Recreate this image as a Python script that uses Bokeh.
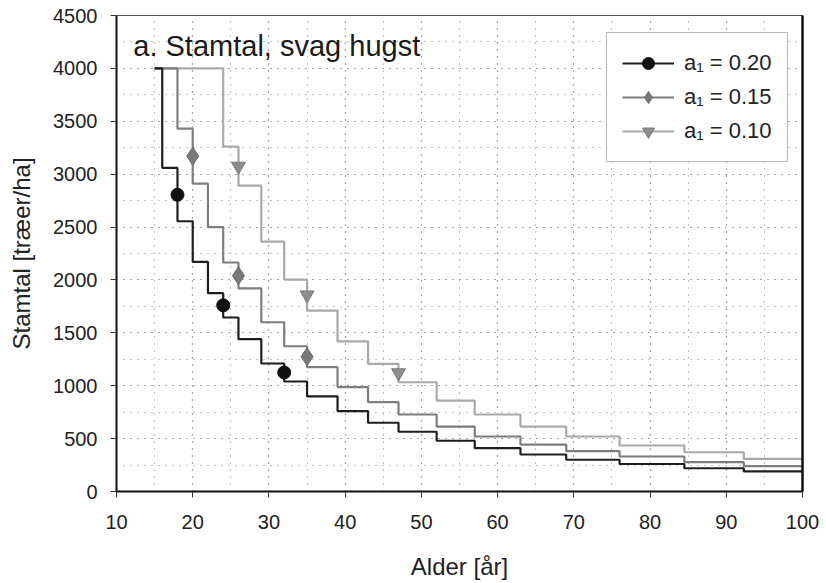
from bokeh.plotting import figure
from bokeh.models import (Label, Legend, LegendItem, LinearAxis, Range1d,
                          FixedTicker)
from bokeh.embed import file_html
from bokeh.resources import INLINE

# ---- data ----
# a1 = 0.20 (black)
age_020 = [15, 16, 18, 20, 22, 24, 26, 29, 32, 35, 39, 43, 47, 52, 57, 63, 69, 76, 84.5, 92.3, 100]
n_020 = [4000, 3060, 2555, 2170, 1875, 1645, 1440, 1210, 1040, 900, 760, 650, 565, 480, 410, 350, 300, 260, 220, 190, 190]
mk_age_020 = [18, 24, 32]
mk_n_020 = [2805, 1760, 1125]

# a1 = 0.15 (mid grey)
age_015 = [15, 18, 20, 22, 24, 26, 29, 32, 35, 39, 43, 47, 52, 57, 63, 69, 76, 84.5, 92.3, 100]
n_015 = [4000, 3430, 2910, 2500, 2165, 1920, 1600, 1373, 1175, 987, 844, 728, 614, 520, 444, 381, 331, 277, 239, 239]
mk_age_015 = [20, 26, 35]
mk_n_015 = [3170, 2040, 1274]

# a1 = 0.10 (light grey)
age_010 = [15, 24, 26, 29, 32, 35, 39, 43, 47, 52, 57, 63, 69, 76, 84.5, 92.3, 100]
n_010 = [4000, 3260, 2891, 2362, 2003, 1710, 1420, 1207, 1033, 860, 728, 614, 520, 435, 371, 309, 309]
mk_age_010 = [26, 35, 47]
mk_n_010 = [3075, 1858, 1122]

labels = ["a\u2081 = 0.20", "a\u2081 = 0.15", "a\u2081 = 0.10"]
x_ticks = [10, 20, 30, 40, 50, 60, 70, 80, 90, 100]
y_ticks = [0, 500, 1000, 1500, 2000, 2500, 3000, 3500, 4000, 4500]

FONT = "Liberation Sans"

p = figure(width=826, height=583, output_backend="svg", toolbar_location=None,
           x_range=Range1d(10, 100), y_range=Range1d(0, 4500),
           min_border_left=116, min_border_right=24, min_border_top=15,
           min_border_bottom=92)
p.background_fill_color = "white"
p.border_fill_color = "white"
p.outline_line_color = "#555555"
p.outline_line_width = 1

# axes
p.xaxis.ticker = FixedTicker(ticks=x_ticks, minor_ticks=list(range(10, 101, 5)))
p.yaxis.ticker = FixedTicker(ticks=y_ticks, minor_ticks=list(range(0, 4501, 250)))
for ax in (p.xaxis[0], p.yaxis[0]):
    ax.axis_line_color = "#111111"
    ax.axis_line_width = 2
    ax.major_tick_line_color = "#333333"
    ax.major_tick_line_width = 1
    ax.major_tick_in = 0
    ax.major_tick_out = 6
    ax.minor_tick_line_color = None
    ax.major_label_text_font = FONT
    ax.major_label_text_font_size = "20px"
    ax.major_label_text_color = "#222222"
    ax.axis_label_text_font = FONT
    ax.axis_label_text_font_size = "24px"
    ax.axis_label_text_font_style = "normal"
    ax.axis_label_text_color = "#222222"
p.xaxis.axis_label = "Alder [år]"
p.yaxis.axis_label = "Stamtal [træer/ha]"
p.xaxis.major_label_standoff = 17
p.yaxis.major_label_standoff = 13
p.xaxis.axis_label_standoff = 21
p.yaxis.axis_label_standoff = 15

# right border
rax = LinearAxis(ticker=FixedTicker(ticks=[]), axis_line_width=2.5,
                 axis_line_color="#111111", major_label_text_font_size="0px",
                 major_tick_line_color=None, minor_tick_line_color=None)
p.add_layout(rax, "right")

# grid (dotted, every 5 years / 250 trees)
for g in (p.xgrid[0], p.ygrid[0]):
    g.grid_line_color = "#8a8a8a"
    g.grid_line_dash = "1 6"
    g.grid_line_width = 1.2
    g.minor_grid_line_color = "#8a8a8a"
    g.minor_grid_line_dash = "1 6"
    g.minor_grid_line_width = 1.2

# series
l1 = p.step(age_010, n_010, mode="after", line_color="#a9a9a9", line_width=2.2)
l2 = p.step(age_015, n_015, mode="after", line_color="#7d7d7d", line_width=2.2)
l3 = p.step(age_020, n_020, mode="after", line_color="#1e1e1e", line_width=2.2)

m3 = p.scatter(mk_age_020, mk_n_020, marker="circle", size=13,
               fill_color="#111111", line_color="#111111")
m2 = p.scatter(mk_age_015, mk_n_015, marker="diamond", size=18,
               fill_color="#7a7a7a", line_color="#6a6a6a")
m1 = p.scatter(mk_age_010, mk_n_010, marker="inverted_triangle", size=14,
               fill_color="#8e8e8e", line_color="#7a7a7a")

legend = Legend(items=[
    LegendItem(label=labels[0], renderers=[l3, m3]),
    LegendItem(label=labels[1], renderers=[l2, m2]),
    LegendItem(label=labels[2], renderers=[l1, m1]),
], location=(490, 329))
legend.label_text_font = FONT
legend.label_text_font_size = "22px"
legend.label_text_color = "#222222"
legend.glyph_width = 52
legend.glyph_height = 30
legend.label_height = 30
legend.label_standoff = 10
legend.spacing = 4
legend.padding = 15
legend.margin = 0
legend.border_line_color = "#777777"
legend.border_line_width = 1
legend.background_fill_color = "white"
legend.background_fill_alpha = 1
p.add_layout(legend, "center")

title = Label(x=12.2, y=4214, text="a. Stamtal, svag hugst", text_font=FONT,
              text_font_size="29px", text_color="#1a1a1a", text_baseline="middle")
p.add_layout(title)

open("out.html", "w").write(file_html(p, INLINE))
